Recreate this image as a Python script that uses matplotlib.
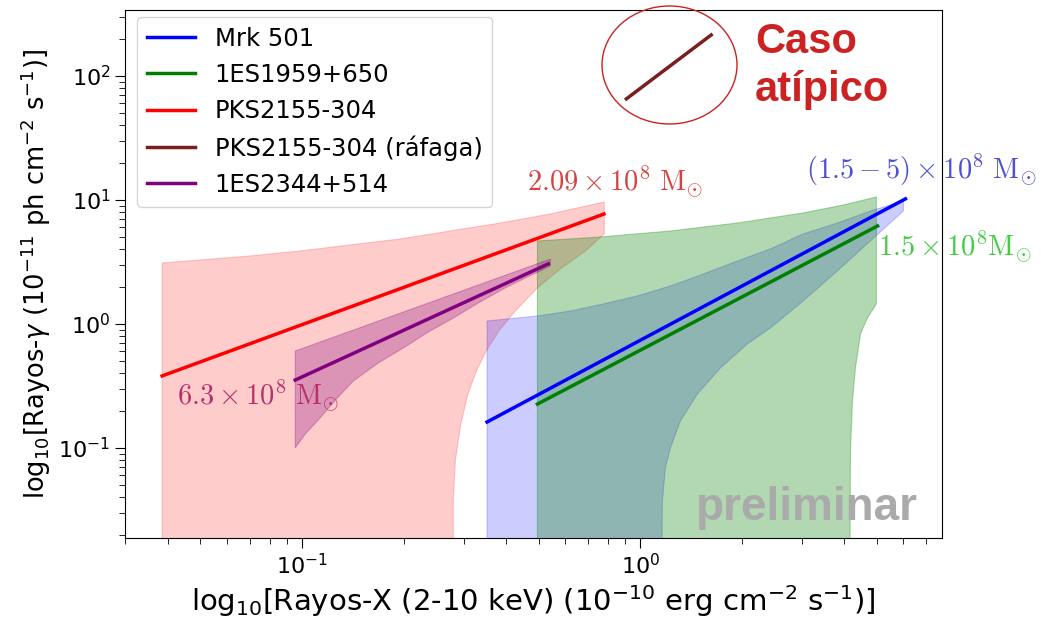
import matplotlib
matplotlib.use("Agg")
import matplotlib.pyplot as plt
from matplotlib.patches import Ellipse

plt.rcParams["mathtext.fontset"] = "dejavusans"

# --- data ---
# fitted lines (start/end: x-ray flux, gamma flux)
mrk_x = [0.352, 6.08]
mrk_y = [0.162, 10.2]
es1959_x = [0.496, 5.03]
es1959_y = [0.226, 6.17]
pks_x = [0.0385, 0.78]
pks_y = [0.381, 7.7]
pks_flare_x = [0.909, 1.62]
pks_flare_y = [65.3, 214.0]
es2344_x = [0.0953, 0.534]
es2344_y = [0.353, 3.05]

# uncertainty bands: upper edge and lower edge (1e-3 = off the bottom of the plot)
pks_up_x = [0.0385, 0.0499, 0.0702, 0.0987, 0.1387, 0.195, 0.274, 0.3852, 0.542, 0.782]
pks_up_y = [3.10, 3.28, 3.535, 3.88, 4.34, 4.85, 5.62, 6.52, 7.71, 9.64]
pks_lo_x = [0.0385, 0.2797, 0.2797, 0.2836, 0.2935, 0.3078, 0.3272, 0.3526, 0.3852,
            0.4267, 0.4958, 0.580, 0.688, 0.782]
pks_lo_y = [1e-3, 1e-3, 0.0374, 0.0785, 0.150, 0.263, 0.418, 0.629, 0.911,
            1.273, 1.951, 2.777, 3.879, 5.32]

mrk_up_x = [0.352, 0.496, 0.621, 0.777, 0.9798, 1.227, 1.536, 1.937, 2.424, 3.03, 3.826, 4.79, 6.0]
mrk_up_y = [1.057, 1.16, 1.273, 1.45, 1.682, 2.025, 2.53, 3.22, 4.03, 5.32, 6.52, 8.15, 9.81]
mrk_lo_x = [0.352, 1.146, 1.162, 1.186, 1.227, 1.313, 1.474, 1.725, 2.073, 2.424, 3.03, 3.826, 4.79, 6.0]
mrk_lo_y = [1e-3, 1e-3, 0.0374, 0.069, 0.100, 0.165, 0.272, 0.442, 0.69, 0.928, 1.533, 2.676, 4.67, 8.15]

es1959_up_x = [0.496, 0.7614, 1.227, 1.937, 3.03, 3.987, 4.99]
es1959_up_y = [4.67, 5.03, 5.62, 6.52, 7.86, 9.11, 10.57]
es1959_lo_x = [0.496, 4.153, 4.182, 4.239, 4.326, 4.478, 4.695, 4.99]
es1959_lo_y = [1e-3, 1e-3, 0.0946, 0.239, 0.442, 0.831, 1.118, 1.45]

es2344_up_x = [0.0953, 0.542]
es2344_up_y = [0.605, 3.34]
es2344_lo_x = [0.0953, 0.1021, 0.113, 0.1261, 0.1416, 0.1679, 0.199, 0.236, 0.28,
               0.3317, 0.393, 0.4632, 0.542]
es2344_lo_y = [0.100, 0.1297, 0.175, 0.2484, 0.347, 0.485, 0.64, 0.862, 1.118,
               1.477, 1.915, 2.393, 2.936]

labels = ["Mrk 501", "1ES1959+650", "PKS2155-304", "PKS2155-304 (ráfaga)", "1ES2344+514"]


def band(ax, up_x, up_y, lo_x, lo_y, color, alpha):
    xs = list(up_x) + list(lo_x)[::-1]
    ys = list(up_y) + list(lo_y)[::-1]
    ax.fill(xs, ys, facecolor=color, alpha=alpha, edgecolor=color, lw=0.8)


fig = plt.figure(figsize=(10.41, 6.26), dpi=100)
ax = fig.add_axes([125 / 1041, 1 - 538 / 626, 817 / 1041, 528 / 626])

# bands (blue under green, as in the original)
band(ax, pks_up_x, pks_up_y, pks_lo_x, pks_lo_y, "red", 0.2)
band(ax, mrk_up_x, mrk_up_y, mrk_lo_x, mrk_lo_y, "blue", 0.2)
band(ax, es1959_up_x, es1959_up_y, es1959_lo_x, es1959_lo_y, "green", 0.3)
band(ax, es2344_up_x, es2344_up_y, es2344_lo_x, es2344_lo_y, "purple", 0.28)

# lines
ax.plot(mrk_x, mrk_y, color="blue", lw=2.5, label=labels[0])
ax.plot(es1959_x, es1959_y, color="green", lw=2.5, label=labels[1])
ax.plot(pks_x, pks_y, color="red", lw=2.5, label=labels[2])
ax.plot(pks_flare_x, pks_flare_y, color="#7a1e1e", lw=2.5, label=labels[3])
ax.plot(es2344_x, es2344_y, color="purple", lw=2.5, label=labels[4])

ax.set_xscale("log")
ax.set_yscale("log")
ax.set_xlim(0.0299, 7.8)
ax.set_ylim(0.0188, 340)

ax.tick_params(which="major", labelsize=16, length=7)
ax.tick_params(which="minor", length=4)

ax.set_xlabel(r"log$_{10}$[Rayos-X (2-10 keV) (10$^{-10}$ erg cm$^{-2}$ s$^{-1}$)]", fontsize=21)
ax.set_ylabel(r"log$_{10}$[Rayos-$\gamma$ (10$^{-11}$ ph cm$^{-2}$ s$^{-1}$)]", fontsize=18.5)

leg = ax.legend(loc="upper left", fontsize=17.5, handlelength=2.0, borderaxespad=0,
                bbox_to_anchor=(12 / 817, 1 - 7 / 528))

# mass labels
ax.text(0.463, 11.8, r"$2.09 \times 10^8\ \mathrm{M}_{\odot}$", color="#d94040",
        fontsize=20.5, math_fontfamily="cm", va="baseline")
ax.text(3.08, 14.8, r"$(1.5 - 5) \times 10^8\ \mathrm{M}_{\odot}$", color="#5050d0",
        fontsize=20.5, math_fontfamily="cm", va="baseline", clip_on=False)
ax.text(5.03, 3.53, r"$1.5 \times 10^8 \mathrm{M}_{\odot}$", color="#44cc44",
        fontsize=20.5, math_fontfamily="cm", va="baseline", clip_on=False)
ax.text(0.0427, 0.222, r"$6.3 \times 10^8\ \mathrm{M}_{\odot}$", color="#b8306a",
        fontsize=20.5, math_fontfamily="cm", va="baseline")

# watermark
ax.text(0.971, 0.034, "preliminar", transform=ax.transAxes, ha="right", va="baseline",
        fontsize=33, fontweight="bold", color="#aaaaaa", family="Liberation Sans")

# atypical case annotation
ell = Ellipse((669.5 / 1041, 1 - 65 / 626), 135 / 1041, 118 / 626, transform=fig.transFigure,
              fill=False, edgecolor="#cc2222", lw=1.0)
fig.patches.append(ell)
fig.text(755 / 1041, 1 - 22 / 626, "Caso\natípico", ha="left", va="top", fontsize=30,
         fontweight="bold", color="#cc2222", family="Liberation Sans", linespacing=1.25)

fig.savefig("out.png", dpi=100)
